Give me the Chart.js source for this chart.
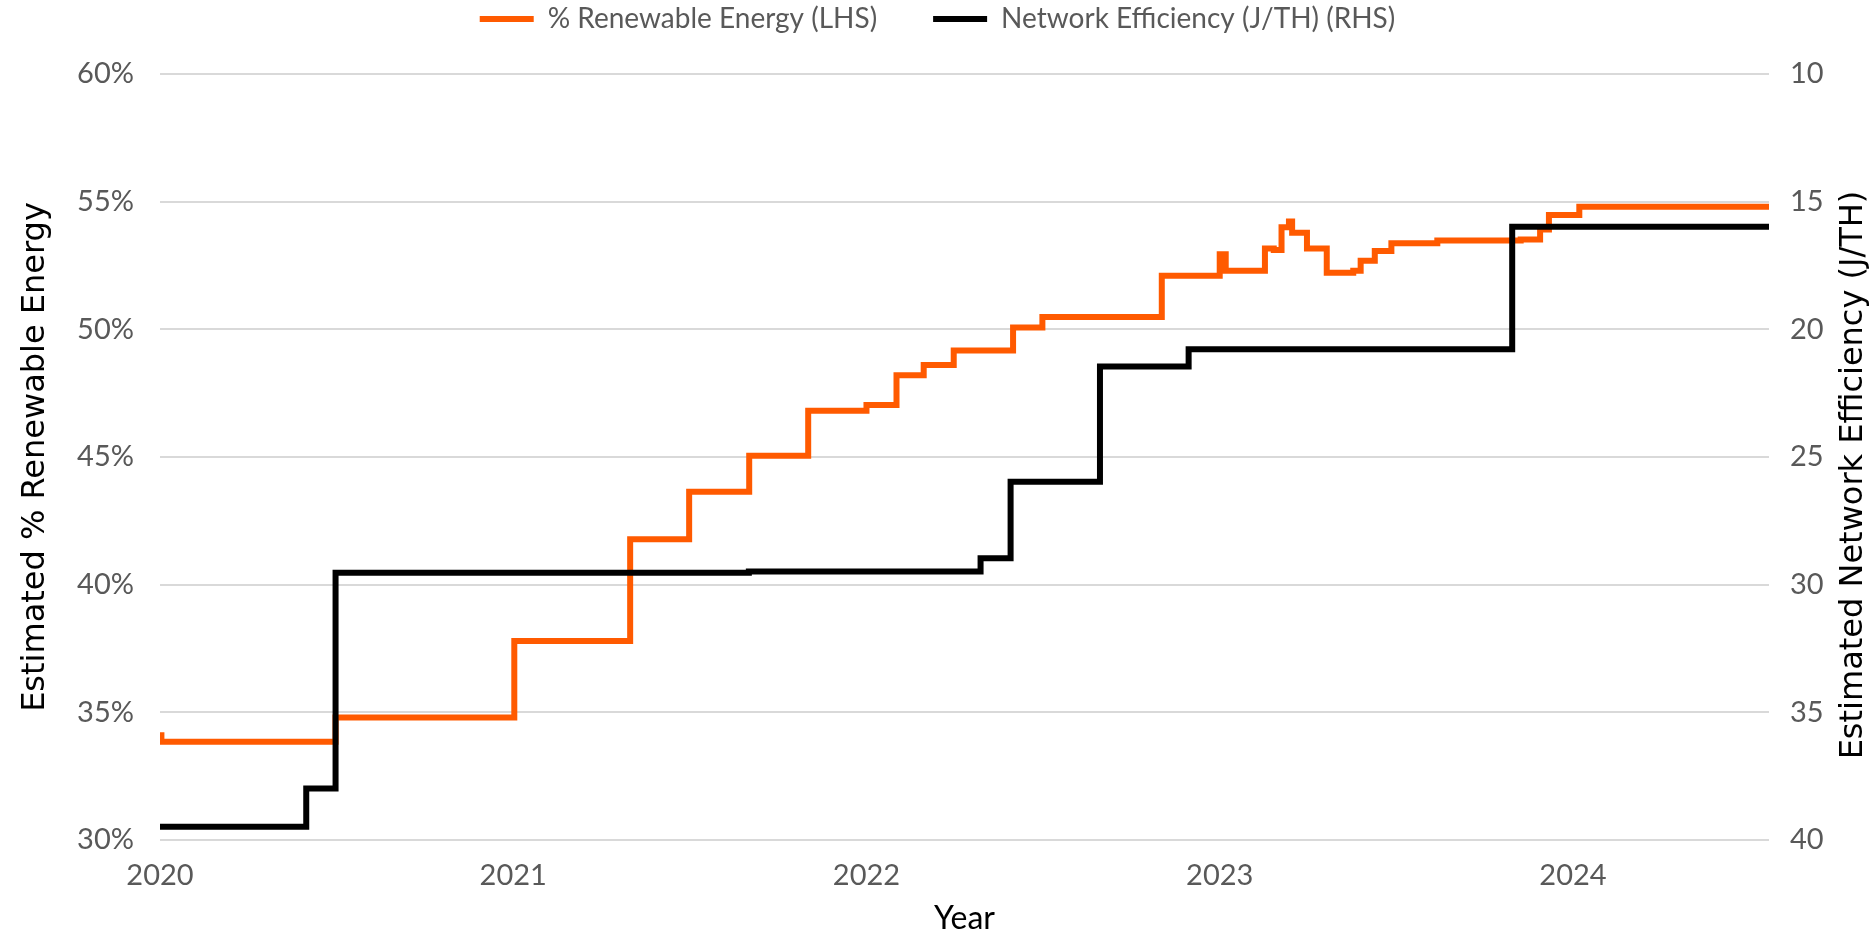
<!DOCTYPE html>
<html>
<head>
<meta charset="utf-8">
<script src="https://cdn.jsdelivr.net/npm/chart.js@4.4.1/dist/chart.umd.min.js"></script>
<style>
  html, body { margin: 0; padding: 0; background: #ffffff; }
  #wrap { width: 1875px; height: 935px; position: relative; }
</style>
</head>
<body>
<div id="wrap"><canvas id="energyChart"></canvas></div>
<script>
// tick labels
const yearTicks = [2020, 2021, 2022, 2023, 2024];
const pctTicks = [30, 35, 40, 45, 50, 55, 60];
const effTicks = [10, 15, 20, 25, 30, 35, 40];

// % renewable energy (step series, value holds from each time onwards)
const renTime = [2020.000, 2020.004, 2020.497, 2021.003, 2021.331, 2021.498, 2021.668, 2021.835,
                 2022.000, 2022.085, 2022.162, 2022.247, 2022.415, 2022.498, 2022.836, 2023.000,
                 2023.017, 2023.128, 2023.153, 2023.175, 2023.196, 2023.205, 2023.247, 2023.303,
                 2023.378, 2023.399, 2023.439, 2023.486, 2023.616, 2023.852, 2023.907, 2023.932,
                 2024.018, 2024.555];
const renValue = [34.1, 33.85, 34.8, 37.79, 41.78, 43.64, 45.05, 46.81,
                  47.04, 48.2, 48.6, 49.17, 50.07, 50.48, 52.1, 52.94,
                  52.29, 53.17, 53.11, 54.0, 54.22, 53.78, 53.17, 52.22,
                  52.29, 52.69, 53.07, 53.37, 53.48, 53.52, 53.91, 54.48,
                  54.8, 54.8];

// network efficiency J/TH
const effTime = [2020.000, 2020.414, 2020.497, 2021.667, 2022.323, 2022.408, 2022.661, 2022.912, 2023.828, 2024.555];
const effValue = [39.48, 37.98, 29.53, 29.48, 28.97, 25.97, 21.46, 20.78, 15.98, 15.98];

const xMin = 2020, xMax = 2024.555;
const rightTitleText = 'Estimated Network Efficiency (J/TH)';

const toPoints = (ts, vs) => ts.map((t, i) => ({ x: t, y: vs[i] }));

// give the legend extra room below it
const legendGap = {
    id: 'legendGap',
    beforeInit(chart) {
        const origFit = chart.legend.fit;
        chart.legend.fit = function () {
            origFit.bind(chart.legend)();
            this.height = 125;
        };
    }
};

// right axis title reads bottom-to-top like the left one
const rightTitle = {
    id: 'rightTitle',
    afterDraw(chart) {
        const s = chart.scales.y1;
        const c = chart.ctx;
        c.save();
        c.translate(s.right - 21, (s.top + s.bottom) / 2 + 18);
        c.rotate(-Math.PI / 2);
        c.font = '32px "DejaVu Sans"';
        c.fillStyle = '#000000';
        c.textAlign = 'center';
        c.textBaseline = 'middle';
        c.fillText(rightTitleText, 0, 0);
        c.restore();
    }
};

const ctx = document.getElementById('energyChart').getContext('2d');
new Chart(ctx, {
    type: 'line',
    data: {
        datasets: [{
            label: '% Renewable Energy (LHS)',
            data: toPoints(renTime, renValue),
            borderColor: '#ff5a00',
            backgroundColor: '#ff5a00',
            borderWidth: 6,
            stepped: true,
            pointRadius: 0,
            yAxisID: 'y',
            order: 1
        }, {
            label: 'Network Efficiency (J/TH) (RHS)',
            data: toPoints(effTime, effValue),
            borderColor: '#000000',
            backgroundColor: '#000000',
            borderWidth: 6,
            stepped: true,
            pointRadius: 0,
            yAxisID: 'y1',
            order: 0
        }]
    },
    options: {
        responsive: true,
        maintainAspectRatio: false,
        animation: false,
        devicePixelRatio: 1,
        layout: { padding: { top: -51, left: 0, right: 0, bottom: 0 } },
        plugins: {
            legend: {
                position: 'top',
                labels: {
                    color: '#595959',
                    font: { family: 'Lato', size: 28 },
                    boxWidth: 54,
                    boxHeight: 6,
                    padding: 56,
                    sort: (a, b) => a.datasetIndex - b.datasetIndex,
                    generateLabels(chart) {
                        const items = Chart.defaults.plugins.legend.labels.generateLabels(chart);
                        items.forEach(it => { it.lineWidth = 0; it.fillStyle = it.strokeStyle; });
                        return items;
                    }
                }
            },
            tooltip: { enabled: false }
        },
        scales: {
            x: {
                type: 'linear',
                min: xMin,
                max: xMax,
                afterBuildTicks: axis => { axis.ticks = yearTicks.map(v => ({ value: v })); },
                afterFit: scale => { scale.height = 95; },
                ticks: {
                    color: '#595959',
                    font: { family: 'Lato', size: 29 },
                    padding: 18,
                    maxRotation: 0,
                    callback: v => String(v)
                },
                grid: { display: false, drawTicks: false },
                border: { display: false },
                title: {
                    display: true,
                    text: 'Year',
                    color: '#000000',
                    font: { family: 'Lato', size: 32, lineHeight: 1 },
                    padding: { top: 0, bottom: 0 }
                }
            },
            y: {
                position: 'left',
                min: 30,
                max: 60,
                afterBuildTicks: axis => { axis.ticks = pctTicks.map(v => ({ value: v })); },
                afterFit: scale => { scale.width = 160; },
                ticks: {
                    color: '#595959',
                    font: { family: 'Lato', size: 29 },
                    padding: 26,
                    callback: v => v + '%'
                },
                grid: { color: '#d9d9d9', lineWidth: 2, drawTicks: false },
                border: { display: false },
                title: {
                    display: true,
                    text: 'Estimated % Renewable Energy',
                    color: '#000000',
                    font: { family: 'DejaVu Sans', size: 32 },
                    padding: { top: 16, bottom: 0 }
                }
            },
            y1: {
                position: 'right',
                reverse: true,
                min: 10,
                max: 40,
                afterBuildTicks: axis => { axis.ticks = effTicks.map(v => ({ value: v })); },
                afterFit: scale => { scale.width = 106; },
                ticks: {
                    color: '#595959',
                    font: { family: 'Lato', size: 29 },
                    padding: 21,
                    callback: v => String(v)
                },
                grid: { display: false, drawTicks: false },
                border: { display: false },
                title: { display: false }
            }
        }
    },
    plugins: [legendGap, rightTitle]
});
</script>
</body>
</html>
